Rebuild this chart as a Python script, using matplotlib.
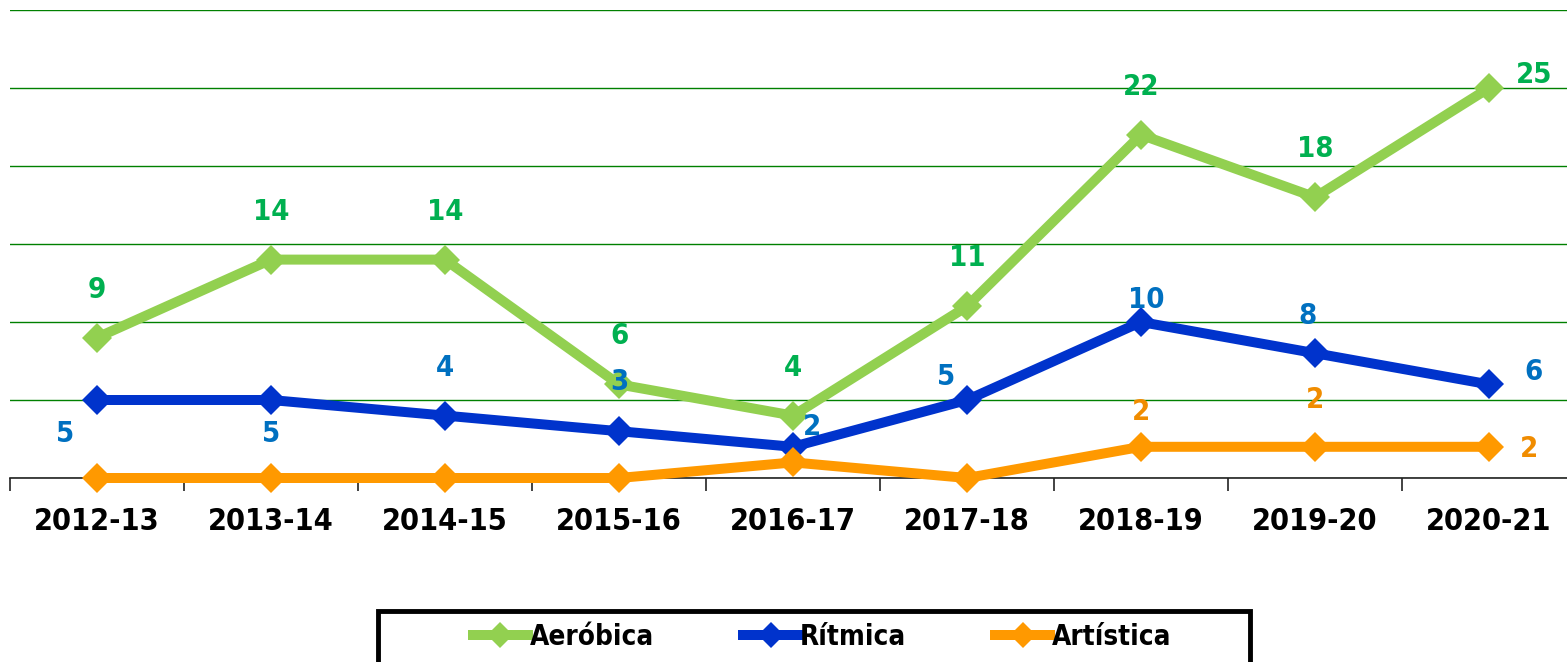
import matplotlib
matplotlib.use("Agg")
import matplotlib.pyplot as plt
from matplotlib.patches import Rectangle
import numpy as np

# ---- data ----
years = ['2012-13', '2013-14', '2014-15', '2015-16', '2016-17',
         '2017-18', '2018-19', '2019-20', '2020-21']
aerobica = [9, 14, 14, 6, 4, 11, 22, 18, 25]
ritmica = [5, 5, 4, 3, 2, 5, 10, 8, 6]
artistica = [0, 0, 0, 0, 1, 0, 2, 2, 2]
series_names = ['Aeróbica', 'Rítmica', 'Artística']

# ---- styles ----
FONT = ['DejaVu Sans']
plt.rcParams['font.family'] = FONT
plt.rcParams['font.weight'] = 'bold'
plt.rcParams['font.stretch'] = 'condensed'

line_colors = ['#92D050', '#0033CC', '#FF9900']
label_colors = ['#00B050', '#0070C0', '#F08C00']
# label offsets in pixels (dx, dy); None = no label shown
aer_off = [(0, 48)] * 8 + [(45, 13)]
rit_off = [(-32, -34), (0, -34), (0, 48), (0, 49), (19, 20), (-21, 23), (5, 22), (-8, 37), (44, 12)]
art_off = [None] * 6 + [(0, 35), (0, 47), (40, -2)]

W, H = 1567, 662
fig = plt.figure(figsize=(W / 100, H / 100), dpi=100)
ax = fig.add_axes([10 / W, (H - 478) / H, 1566 / W, 468 / H])

x = np.arange(len(years))
all_series = [aerobica, ritmica, artistica]
offsets = [aer_off, rit_off, art_off]

handles = []
for vals, name, lc in zip(all_series, series_names, line_colors):
    h, = ax.plot(x, vals, color=lc, lw=7.2, marker='D', markersize=15,
                 markeredgewidth=0, clip_on=False, label=name, zorder=3,
                 solid_joinstyle='miter')
    handles.append(h)

for vals, offs, tc in zip(all_series, offsets, label_colors):
    for xi, v, off in zip(x, vals, offs):
        if off is None:
            continue
        ax.annotate(str(v), (xi, v), xytext=off, textcoords='offset pixels',
                    ha='center', va='center', color=tc, fontsize=21,
                    fontweight='bold', zorder=5, annotation_clip=False)

ax.set_xlim(-0.5, len(years) - 0.5)
ax.set_ylim(0, 30)
ax.set_yticks(np.arange(0, 31, 5))
ax.yaxis.grid(True, color='#008000', lw=1.0)
ax.set_axisbelow(True)
ax.tick_params(axis='y', left=False, labelleft=False)

ax.set_xticks(x)
ax.set_xticklabels(years, fontsize=22, fontweight='bold')
ax.tick_params(axis='x', which='major', length=0, pad=21)
ax.set_xticks(np.arange(-0.5, len(years), 1), minor=True)
ax.tick_params(axis='x', which='minor', length=9, width=1.2, color='#222222')

for s in ['left', 'right', 'top']:
    ax.spines[s].set_visible(False)
ax.spines['bottom'].set_color('#222222')
ax.spines['bottom'].set_linewidth(1.2)
ax.set_facecolor('white')

# legend
leg = fig.legend(handles=handles, loc='center', bbox_to_anchor=(822 / W, (H - 637) / H),
                 ncol=3, frameon=False, fontsize=20, handlelength=2.0,
                 handletextpad=0.05, columnspacing=3.2, markerscale=0.85)
for t in leg.get_texts():
    t.set_fontweight('bold')
fig.patches.append(Rectangle((378 / W, (H - 668) / H), 872 / W, 57 / H,
                             transform=fig.transFigure, fill=False,
                             edgecolor='black', lw=3.5, zorder=10))

fig.savefig('out.png', dpi=100, facecolor='white')
